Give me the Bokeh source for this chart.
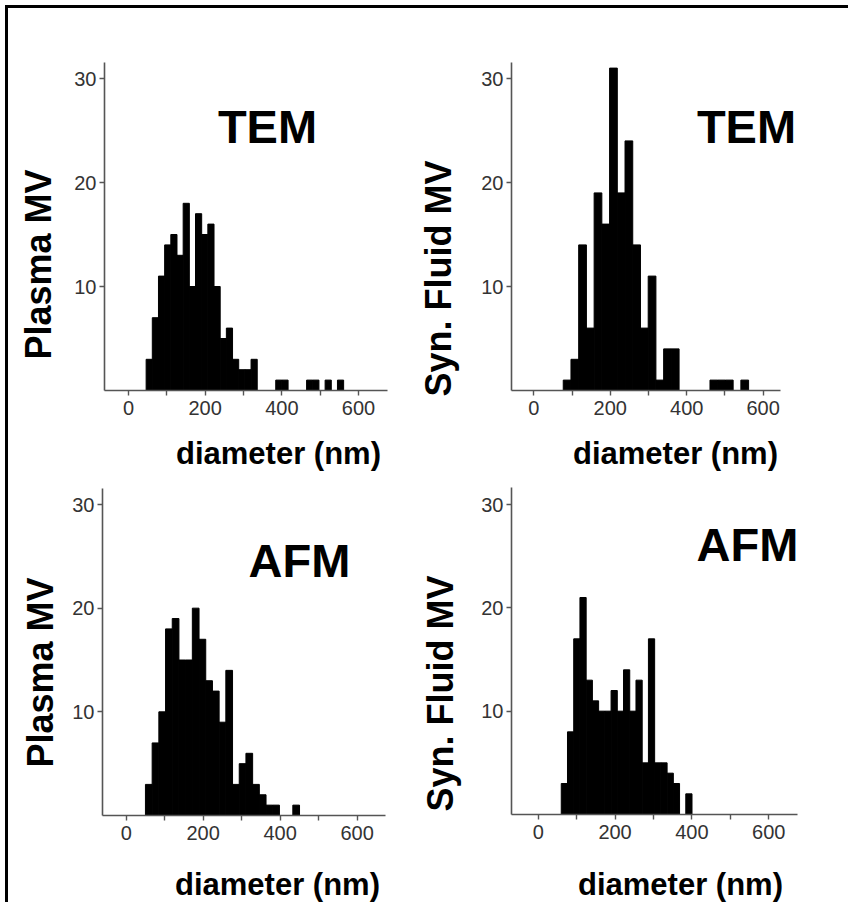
from bokeh.plotting import figure
from bokeh.layouts import gridplot
from bokeh.models import Label, FixedTicker, Range1d, LinearAxis
from bokeh.embed import file_html
from bokeh.resources import INLINE

# ---------------- data (histogram counts) ----------------
# Plasma MV, TEM
plasma_tem_bin_start = 46.0
plasma_tem_bin_width = 16.1
plasma_tem_counts = [3, 7, 11, 14, 15, 13, 18, 10, 17, 15, 16, 10, 5, 6, 3, 2, 2, 3,
                     0, 0, 0, 1, 1, 0, 0, 0, 1, 1, 0, 1, 0, 1]

# Synovial fluid MV, TEM
syn_tem_bin_start = 77.0
syn_tem_bin_width = 20.2
syn_tem_counts = [1, 3, 14, 6, 19, 16, 31, 19, 24, 14, 6, 11, 1, 4, 4,
                  0, 0, 0, 0, 1, 1, 1, 0, 1]

# Plasma MV, AFM
plasma_afm_bin_start = 50.0
plasma_afm_bin_width = 17.4
plasma_afm_counts = [3, 7, 10, 18, 19, 15, 15, 20, 17, 13, 12, 9, 14, 3, 5, 6, 3, 2,
                     1, 1, 0, 0, 1]

# Synovial fluid MV, AFM
syn_afm_bin_start = 60.0
syn_afm_bin_width = 16.2
syn_afm_counts = [3, 8, 17, 21, 13, 11, 10, 10, 12, 10, 14, 10, 13, 5, 17, 5, 5, 4, 3,
                  0, 2]

x_ticks = [0, 100, 200, 300, 400, 500, 600]
x_tick_labels = {0: "0", 100: "", 200: "200", 300: "", 400: "400", 500: "", 600: "600"}
y_ticks = [10, 20, 30]

x_title = "diameter (nm)"
row_titles = ["Plasma MV", "Syn. Fluid MV"]
method_titles = ["TEM", "AFM"]

FONT = "Liberation Sans"


def panel(counts, start, width, box, axes_px, ylab, ylab_xy, meth, meth_xy, xlab_xy):
    """box: figure placement on page (left, top, width, height).
    axes_px: page pixels (x of 0, x of 600, x-axis left, x-axis right, y of 0, y of 30, y-axis top)."""
    fl, ft, W, H = box
    x0, x600, axl, axr, y0, y30, ayt = axes_px
    sx = (x600 - x0) / 600.0
    sy = (y0 - y30) / 30.0
    xr = ((fl - x0) / sx, (fl + W - x0) / sx)
    yr = ((y0 - (ft + H)) / sy, (y0 - ft) / sy)
    x_axis_start = (axl - x0) / sx
    x_axis_end = (axr - x0) / sx
    y_axis_end = (y0 - ayt) / sy

    p = figure(width=W, height=H, x_range=Range1d(*xr), y_range=Range1d(*yr),
               min_border=0, toolbar_location=None, tools="",
               x_axis_location=None, y_axis_location=None,
               output_backend="svg")
    lefts = [start + i * width for i in range(len(counts))]
    rights = [l + width for l in lefts]
    p.quad(left=lefts, right=rights, top=counts, bottom=0,
           fill_color="black", line_color="black", line_width=1)

    p.grid.visible = False
    p.outline_line_color = None
    p.background_fill_color = "white"
    p.border_fill_color = "white"

    xa = LinearAxis(fixed_location=0, bounds=(x_axis_start, x_axis_end),
                    ticker=FixedTicker(ticks=x_ticks),
                    major_label_overrides=x_tick_labels, major_label_standoff=5)
    ya = LinearAxis(fixed_location=x_axis_start, bounds=(0, y_axis_end),
                    ticker=FixedTicker(ticks=y_ticks), major_label_standoff=3)
    for ax in (xa, ya):
        ax.axis_line_color = "#555555"
        ax.axis_line_width = 1.6
        ax.major_tick_line_color = "#555555"
        ax.major_tick_line_width = 1.4
        ax.major_tick_out = 5
        ax.major_tick_in = 0
        ax.minor_tick_line_color = None
        ax.major_label_text_font = FONT
        ax.major_label_text_font_size = "20px"
        ax.major_label_text_color = "#333333"
    p.add_layout(xa, "below")
    p.add_layout(ya, "left")

    def scr(pt):
        return pt[0] - fl, (ft + H) - pt[1]

    lx, ly = scr(ylab_xy)
    p.add_layout(Label(x=lx, y=ly, x_units="screen", y_units="screen",
                       text=ylab, angle=90, angle_units="deg",
                       text_align="center", text_baseline="middle",
                       text_font=FONT, text_font_style="bold",
                       text_font_size="36px", text_color="black"))
    mx, my = scr(meth_xy)
    p.add_layout(Label(x=mx, y=my, x_units="screen", y_units="screen",
                       text=meth, text_align="center", text_baseline="middle",
                       text_font=FONT, text_font_style="bold",
                       text_font_size="47px", text_color="black"))
    tx, ty = scr(xlab_xy)
    p.add_layout(Label(x=tx, y=ty, x_units="screen", y_units="screen",
                       text=x_title, text_align="center", text_baseline="middle",
                       text_font=FONT, text_font_style="bold",
                       text_font_size="31px", text_color="black"))
    return p


LW, RW = 410, 430
TH, BH = 464, 430
p1 = panel(plasma_tem_counts, plasma_tem_bin_start, plasma_tem_bin_width,
           (8, 8, LW, TH), (128, 358, 104, 387, 390, 78, 62),
           row_titles[0], (38, 264), method_titles[0], (267, 126), (278, 453))
p2 = panel(syn_tem_counts, syn_tem_bin_start, syn_tem_bin_width,
           (8 + LW, 8, RW, TH), (533.3, 762.7, 511, 780, 390, 78, 62),
           row_titles[1], (438, 278), method_titles[0], (746, 126), (675, 453))
p3 = panel(plasma_afm_counts, plasma_afm_bin_start, plasma_afm_bin_width,
           (8, 8 + TH, LW, BH), (125.7, 356.7, 102, 385, 815, 504, 488),
           row_titles[0], (40, 672), method_titles[1], (299, 560), (277, 884))
p4 = panel(syn_afm_counts, syn_afm_bin_start, syn_afm_bin_width,
           (8 + LW, 8 + TH, RW, BH), (537.7, 768.3, 511, 797, 814, 504, 487),
           row_titles[1], (440, 693), method_titles[1], (747, 544), (680, 884))

grid = gridplot([[p1, p2], [p3, p4]], toolbar_location=None)
grid.styles = {"border-left": "3px solid black",
               "border-top": "3px solid black",
               "margin-left": "5px", "margin-top": "5px"}

open("out.html", "w").write(file_html(grid, INLINE))
